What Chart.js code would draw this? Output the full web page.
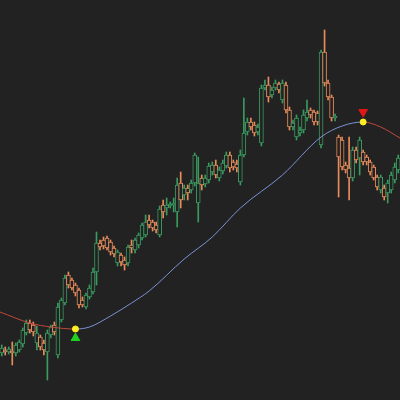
<!DOCTYPE html>
<html>
<head>
<meta charset="utf-8">
<script src="https://cdn.jsdelivr.net/npm/chart.js@4/dist/chart.umd.min.js"></script>
<style>
  html, body { margin: 0; padding: 0; background: #222222; }
  #wrap { width: 400px; height: 400px; }
</style>
</head>
<body>
<div id="wrap"><canvas id="chart" width="400" height="400"></canvas></div>
<script>
// candles, one per bar
const opens  = [47,50,48,49,47,50,56,67,77,75,57,63,57,48,65,75,45,80,97,125,120,115,110,100,93,103,108,128,157,160,162,158,152,137,145,140,137,155,150,155,162,165,180,178,175,165,195,192,194,195,188,217,205,212,210,217,197,222,216,220,228,235,222,229,234,245,238,236,218,245,268,278,275,268,257,312,315,305,312,316,300,315,290,273,263,267,270,282,290,288,287,255,348,317,303,282,263,260,235,232,222,250,242,248,243,238,233,223,210,212,207,210,220,230];
const highs  = [55,53,53,58,57,60,72,80,80,78,74,65,60,70,75,78,97,102,125,128,122,117,112,103,107,115,132,168,160,163,164,160,154,150,147,143,155,160,162,167,177,185,185,180,178,194,200,202,198,202,222,228,215,215,220,247,243,225,225,237,238,240,233,240,248,248,240,240,250,302,282,282,278,276,315,320,323,313,320,318,320,318,293,280,285,273,290,300,292,290,289,350,370,320,305,286,265,263,238,263,253,253,263,250,245,240,235,225,225,215,220,228,237,245];
const lows   = [44,45,46,35,44,48,53,65,67,64,50,50,45,20,62,65,42,78,95,112,110,104,92,93,91,101,106,115,150,151,150,145,143,134,134,130,134,147,147,152,160,163,172,169,167,163,182,185,192,188,173,192,200,200,207,214,178,210,213,217,225,222,219,226,232,228,230,228,215,243,265,270,264,265,254,310,298,302,310,307,297,287,270,270,260,264,267,279,282,275,275,252,314,300,279,279,203,230,227,200,219,237,225,235,235,225,220,210,207,200,197,207,217,227];
const closes = [52,48,51,47,55,58,70,77,70,68,67,53,50,67,73,68,93,100,122,115,112,107,95,95,105,112,128,157,153,154,152,148,146,148,138,135,153,152,160,165,175,178,175,172,170,191,188,195,196,197,215,200,212,207,217,245,217,215,222,234,235,225,230,237,245,232,233,232,245,267,278,273,267,273,312,315,303,310,317,310,317,290,273,277,282,270,285,288,285,278,278,348,317,303,282,284,243,233,230,222,250,240,260,238,238,228,222,213,223,203,217,225,233,242];

// smoothed trend line, read at a few places
const trendIdx   = [-0.5, 8, 14, 21, 25, 31, 37, 42, 52, 60, 68, 80, 91, 97, 103, 108, 113.5];
const trendPrice = [88, 77, 73, 71, 73, 84, 97, 109, 141, 163, 192, 225, 263, 274, 278, 273, 262];

// turning points
const turnIdx   = [21, 103];
const turnPrice = [71, 278];
const buyIdx = 21, buyPrice = 62;
const sellIdx = 103, sellPrice = 288;

const UP = '#3a9a60';
const DOWN = '#e98c5c';
const FALL = '#c2473a';
const RISE = '#7b93d8';

const bodies = opens.map((o, i) => ({ x: i, y: [o, closes[i]] }));
const wicks = highs.map((h, i) => ({ x: i, y: [lows[i], h] }));
const candleColors = opens.map((o, i) => closes[i] >= o ? UP : DOWN);

new Chart(document.getElementById('chart'), {
  data: {
    datasets: [
      {
        type: 'line',
        data: trendIdx.map((x, i) => ({ x: x, y: trendPrice[i] })),
        borderWidth: 1,
        borderColor: RISE,
        pointRadius: 0,
        cubicInterpolationMode: 'monotone',
        segment: {
          borderColor: ctx => ctx.p1.parsed.y < ctx.p0.parsed.y ? FALL : RISE
        },
        order: 0
      },
      {
        type: 'scatter',
        data: turnIdx.map((x, i) => ({ x: x, y: turnPrice[i] })),
        pointRadius: 3,
        pointBackgroundColor: '#ffee22',
        pointBorderColor: '#ffee22',
        order: -1
      },
      {
        type: 'scatter',
        data: [{ x: buyIdx, y: buyPrice }],
        pointStyle: 'triangle',
        pointRadius: 5,
        pointBackgroundColor: '#22d022',
        pointBorderColor: '#22d022',
        order: -1
      },
      {
        type: 'scatter',
        data: [{ x: sellIdx, y: sellPrice }],
        pointStyle: 'triangle',
        rotation: 180,
        pointRadius: 5,
        pointBackgroundColor: '#e01818',
        pointBorderColor: '#e01818',
        order: -1
      },
      {
        type: 'bar',
        data: bodies,
        grouped: false,
        barThickness: 4,
        borderWidth: 1,
        borderSkipped: false,
        borderColor: candleColors,
        backgroundColor: '#222222',
        order: 1
      },
      {
        type: 'bar',
        data: wicks,
        grouped: false,
        barThickness: 1,
        backgroundColor: candleColors,
        order: 2
      }
    ]
  },
  options: {
    responsive: false,
    animation: false,
    layout: { padding: 0, autoPadding: false },
    plugins: { legend: { display: false }, tooltip: { enabled: false } },
    scales: {
      x: { type: 'linear', min: -0.5, max: 113.5, offset: false, display: false },
      y: { min: 0, max: 400, display: false }
    }
  }
});
</script>
</body>
</html>
